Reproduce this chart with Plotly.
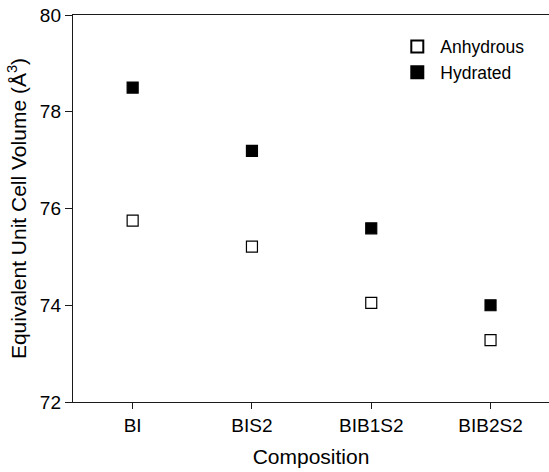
import plotly.graph_objects as go

# Equivalent unit cell volume for each composition
compositions = ["BI", "BIS2", "BIB1S2", "BIB2S2"]
anhydrous = [75.75, 75.21, 74.05, 73.28]
hydrated = [78.50, 77.19, 75.59, 74.00]

FONT = "Liberation Sans, Arial, sans-serif"
AXIS_COLOR = "#1a1a1a"

fig = go.Figure()

fig.add_trace(go.Scatter(
    x=compositions, y=anhydrous, mode="markers", name="Anhydrous",
    marker=dict(symbol="square", size=11, color="white",
                line=dict(color="black", width=1.2)),
))
fig.add_trace(go.Scatter(
    x=compositions, y=hydrated, mode="markers", name="Hydrated",
    marker=dict(symbol="square", size=11, color="black",
                line=dict(color="black", width=1.2)),
))

fig.update_layout(
    width=549, height=472,
    margin=dict(l=72.5, r=0, t=15, b=70),
    paper_bgcolor="white", plot_bgcolor="white",
    font=dict(family=FONT, color="black"),
    showlegend=True,
    legend=dict(
        x=0.675, y=0.965, xanchor="left", yanchor="top",
        bgcolor="rgba(0,0,0,0)", borderwidth=0,
        font=dict(size=17.5, family=FONT),
        itemsizing="constant", itemwidth=36, tracegroupgap=0,
    ),
)

fig.update_xaxes(
    type="category", range=[-0.5, 3.49],
    showline=True, linecolor=AXIS_COLOR, linewidth=1.4, mirror=True,
    ticks="outside", ticklen=6, tickwidth=1.3, tickcolor=AXIS_COLOR,
    showgrid=False, zeroline=False,
    tickfont=dict(size=19, family=FONT),
    title=dict(text="Composition", font=dict(size=21, family=FONT), standoff=14),
)
fig.update_yaxes(
    range=[72, 80], tickvals=[72, 74, 76, 78, 80],
    showline=True, linecolor=AXIS_COLOR, linewidth=1.4, mirror=False,
    ticks="outside", ticklen=7, tickwidth=1.3, tickcolor=AXIS_COLOR,
    showgrid=False, zeroline=False,
    tickfont=dict(size=19, family=FONT),
    title=dict(text="Equivalent Unit Cell Volume (Å<sup>3</sup>)",
               font=dict(size=21, family=FONT), standoff=7),
)

fig.write_html("out.html")
